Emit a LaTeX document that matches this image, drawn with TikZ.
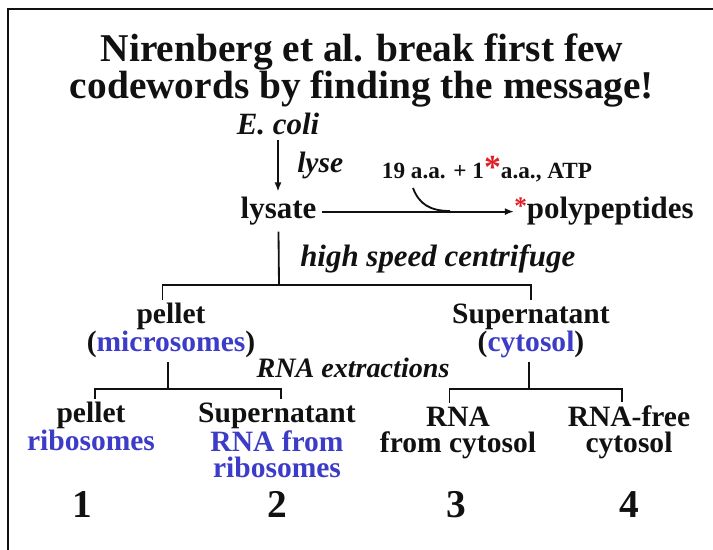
\documentclass[tikz,border=0pt]{standalone}
\usepackage{fontspec}
\setmainfont{Liberation Serif}
\usetikzlibrary{arrows.meta,calc}
\definecolor{ink}{HTML}{111111}
\definecolor{frac}{HTML}{3C3CC8}
\definecolor{tag}{HTML}{E01E28}
\newcommand\fsz[2]{\fontsize{#1}{#2}\selectfont}

\begin{document}
\begin{tikzpicture}[x=0.025cm,y=-0.025cm,text=ink,>={Latex[length=6.5pt,width=5pt]},
  lbl/.style={font=\fsz{21}{19}\bfseries,align=center,inner sep=2.5pt,anchor=base},
  proc/.style={font=\fsz{22}{22}\bfseries\itshape,inner sep=0pt,anchor=base west},
  tube/.style={font=\fsz{28}{28}\bfseries,inner sep=0pt,anchor=base},
  wire/.style={ink,line width=1.3pt}]
  \useasboundingbox (0,0) rectangle (713,550);
  \draw[ink,line width=1pt] (8,550)--(8,9)--(713,9);
  \node[font=\fsz{28}{25.6}\bfseries,align=center,anchor=base,inner sep=0pt] (title) at (362,99)
    {Nirenberg et al. break first few\\codewords by finding the message!};

  % lysis and in vitro translation
  \node[font=\fsz{22}{22}\bfseries\itshape,anchor=base,inner sep=3pt] (ecoli) at (278,135) {E. coli};
  \node[font=\fsz{22}{22}\bfseries,anchor=base,inner sep=4pt] (lysate) at (278.5,219) {lysate};
  \node[proc,font=\fsz{21}{21}\bfseries\itshape] (lyse) at (297,173) {lyse};
  \node[font=\fsz{16.5}{16.5}\bfseries,anchor=base,inner sep=0pt] (aa) at (487,179)
    {19 a.a. + 1{\color{tag}\fsz{24}{24}*}a.a., ATP};
  \node[font=\fsz{22}{22}\bfseries,anchor=base west,inner sep=0pt] (polyp) at (514,219)
    {{\color{tag}\fsz{18}{18}\raisebox{3pt}{*}}polypeptides};
  \draw[wire,->] (ecoli.south) -- (ecoli.south |- lysate.north);
  \draw[wire,->] (lysate.east) -- (lysate.east -| polyp.west);
  \coordinate (bendIn) at (413,188);
  \coordinate (bendOut) at (450,211);
  \draw[wire] (bendIn) .. controls (419,204) and (430,211) .. (bendOut);

  % fractionation
  \node[proc] (spin) at (300,267) {high speed centrifuge};
  \node[lbl] (pelmic) at (171,352) {pellet\\(\textcolor{frac}{microsomes})};
  \node[lbl] (supcyt) at (531,352) {Supernatant\\(\textcolor{frac}{cytosol})};
  \node[proc,font=\fsz{20}{20}\bfseries\itshape,anchor=base] (extract) at (353,378) {RNA extractions};
  \node[lbl] (pelrib) at (91,451) {pellet\\\textcolor{frac}{ribosomes}};
  \node[lbl] (suprib) at (277,478) {Supernatant\\\textcolor{frac}{RNA from}\\\textcolor{frac}{ribosomes}};
  \node[lbl] (rnacyt) at (458,453) {RNA\\from cytosol};
  \node[lbl] (rnafree) at (629,453) {RNA-free\\cytosol};
  \coordinate (cfg) at (279,285);
  \coordinate (exL) at (168,389);
  \coordinate (exR) at (529,389);
  \draw[wire] (lysate.south) -- (cfg);
  \draw[wire] ([xshift=-6pt]pelmic.north) |- (cfg) -| (supcyt.north);
  \draw[wire] (pelmic.south -| exL) -- (exL);
  \draw[wire] ([xshift=3pt]pelrib.north) |- (exL) -| ([xshift=3pt]suprib.north);
  \draw[wire] (supcyt.south -| exR) -- (exR);
  \draw[wire] ([xshift=-6pt]rnacyt.north) |- (exR) -| ([xshift=-5pt]rnafree.north);

  % sample numbers
  \node[tube] (n1) at (82,518) {1};
  \node[tube] (n2) at (277,518) {2};
  \node[tube] (n3) at (456,518) {3};
  \node[tube] (n4) at (629,518) {4};
\end{tikzpicture}
\end{document}
